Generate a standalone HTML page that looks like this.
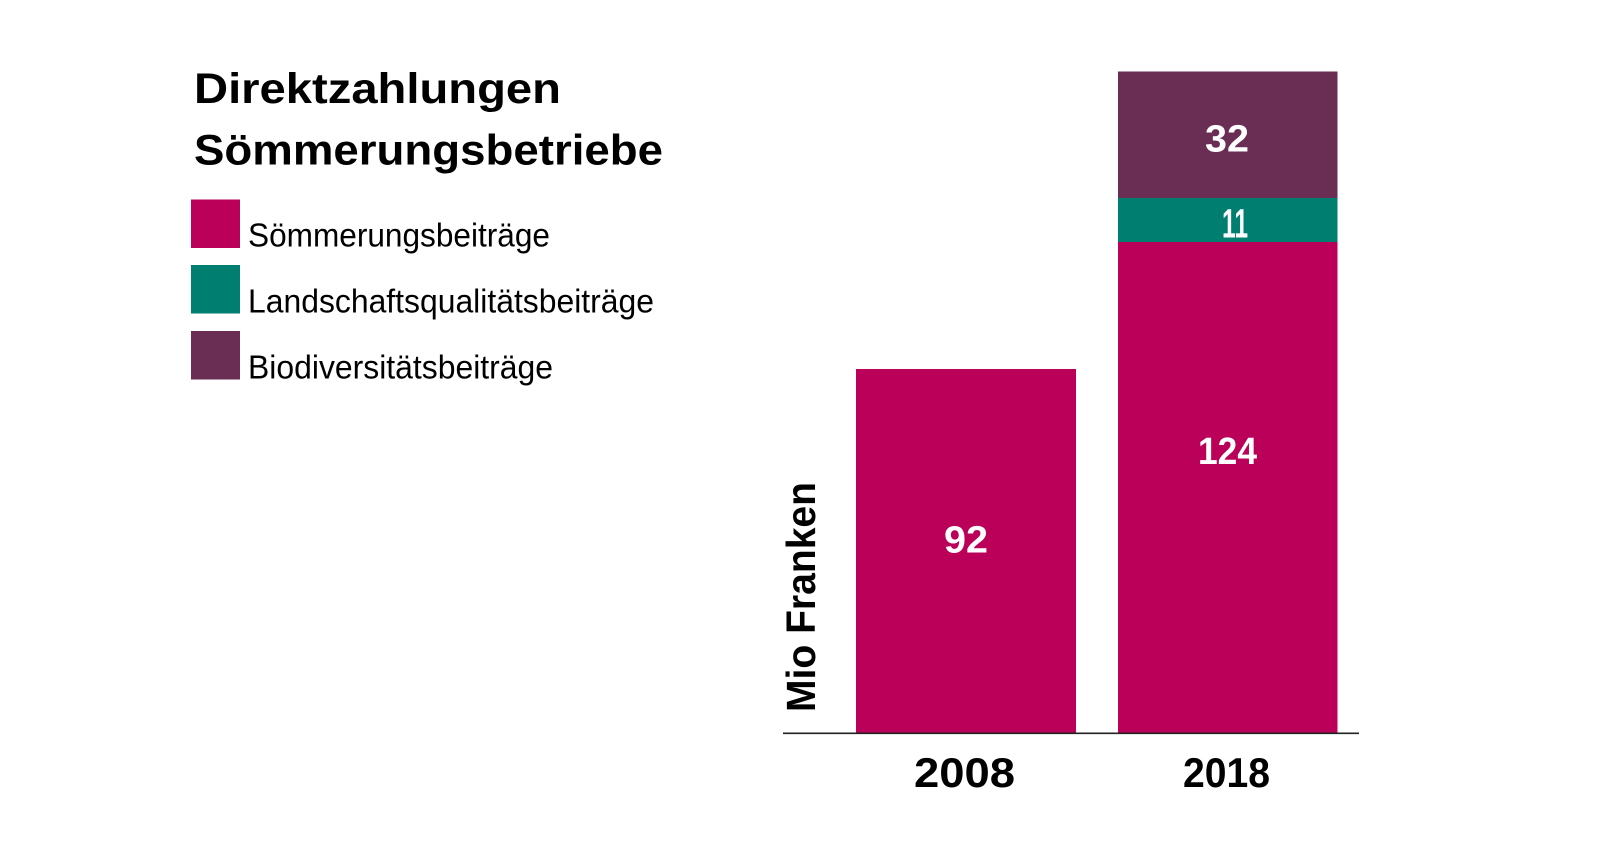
<!DOCTYPE html>
<html>
<head>
<meta charset="utf-8">
<style>
  html, body { margin: 0; padding: 0; background: #ffffff; }
  svg { display: block; }
</style>
</head>
<body>
<svg width="1600" height="854" viewBox="0 0 1600 854" xmlns="http://www.w3.org/2000/svg">
  <rect x="0" y="0" width="1600" height="854" fill="#ffffff"/>

  <!-- Title -->
  <g font-family="Liberation Sans, sans-serif" font-weight="bold" font-size="43" fill="#000">
    <text x="194" y="103" textLength="367" lengthAdjust="spacingAndGlyphs">Direktzahlungen</text>
    <text x="194" y="164.5" textLength="469" lengthAdjust="spacingAndGlyphs">Sömmerungsbetriebe</text>
  </g>

  <!-- Legend -->
  <rect x="191" y="199.5" width="49" height="48.5" fill="#BA0058"/>
  <rect x="191" y="265" width="49" height="48.5" fill="#007F70"/>
  <rect x="191" y="331" width="49" height="48.5" fill="#6A2D54"/>
  <g font-family="Liberation Sans, sans-serif" font-size="33" fill="#000">
    <text x="248" y="246.5" textLength="302" lengthAdjust="spacingAndGlyphs">Sömmerungsbeiträge</text>
    <text x="248" y="312.5" textLength="406" lengthAdjust="spacingAndGlyphs">Landschaftsqualitätsbeiträge</text>
    <text x="248" y="378.5" textLength="305" lengthAdjust="spacingAndGlyphs">Biodiversitätsbeiträge</text>
  </g>

  <!-- Bars -->
  <rect x="856" y="369" width="220" height="364" fill="#BA0058"/>
  <rect x="1118" y="242" width="219.5" height="491" fill="#BA0058"/>
  <rect x="1118" y="198" width="219.5" height="44" fill="#007F70"/>
  <rect x="1118" y="71.5" width="219.5" height="126.5" fill="#6A2D54"/>

  <!-- Axis line -->
  <line x1="783" y1="733.3" x2="1359" y2="733.3" stroke="#222" stroke-width="1.6"/>

  <!-- Bar value labels -->
  <g font-family="Liberation Sans, sans-serif" font-weight="bold" font-size="38" fill="#ffffff">
    <text x="944" y="552.5" textLength="44" lengthAdjust="spacingAndGlyphs">92</text>
    <text x="1198" y="464" textLength="59" lengthAdjust="spacingAndGlyphs">124</text>
    <text x="1205" y="151.5" textLength="44" lengthAdjust="spacingAndGlyphs">32</text>
    <text x="1222" y="237.5" font-size="41" textLength="26" lengthAdjust="spacingAndGlyphs">11</text>
  </g>

  <!-- Year labels -->
  <g font-family="Liberation Sans, sans-serif" font-weight="bold" font-size="42" fill="#000">
    <text x="914" y="787" textLength="101" lengthAdjust="spacingAndGlyphs">2008</text>
    <text x="1183" y="787" textLength="87" lengthAdjust="spacingAndGlyphs">2018</text>
  </g>

  <!-- Y axis title -->
  <text transform="translate(815,712) rotate(-90)" font-family="Liberation Sans, sans-serif" font-weight="bold" font-size="41" fill="#000" textLength="230" lengthAdjust="spacingAndGlyphs">Mio Franken</text>
</svg>
</body>
</html>
